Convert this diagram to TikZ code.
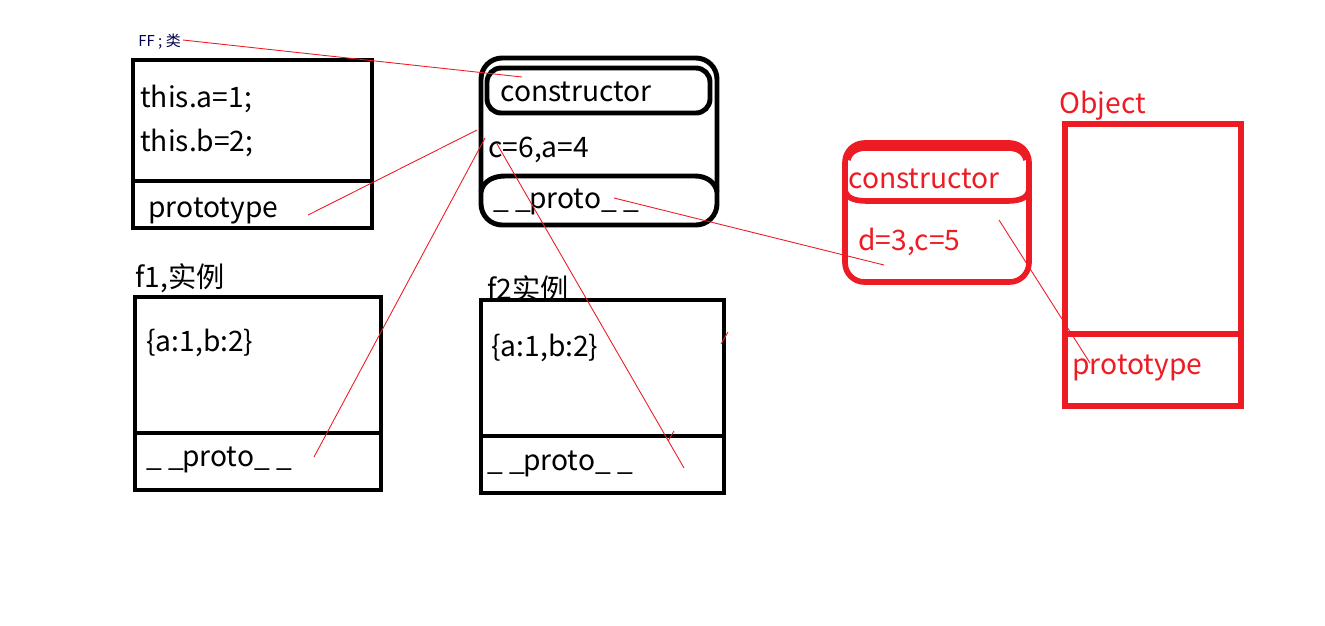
\documentclass[tikz,border=0pt]{standalone}
\usepackage{fontspec}
\setmainfont{Noto Sans CJK SC}
\definecolor{paintred}{RGB}{237,28,36}
\newcommand{\protolabel}{\_\hspace{3.5pt}\_\kern-1pt proto\_\hspace{3.5pt}\_}
\tikzset{
  txt/.style={anchor=west, inner sep=0pt, yshift=-1pt, font=\fontsize{16}{19}\selectfont},
  box/.style={line width=2.8pt},
  redbox/.style={paintred, line width=3.2pt},
  link/.style={paintred, line width=0.5pt}
}
\begin{document}
\begin{tikzpicture}[x=0.5675pt, y=-0.5675pt]
      \useasboundingbox (0,0) rectangle (1325,625);
      % boxes
      \draw[box] (133,60) rectangle (372,228) (133,181) -- (372,181);
      \draw[box, rounded corners=12pt] (481,58) rectangle (717,225);
      \draw[box, rounded corners=8pt] (487,68) rectangle (710,113);
      \draw[box] (481,192) to[out=80,in=180] (505,176) -- (695,176) to[out=0,in=100] (717,192);
      \draw[box] (135,297) rectangle (381,490) (135,433) -- (381,433);
      \draw[box] (481,300) rectangle (724,493) (481,436) -- (724,436);
      \draw[redbox, rounded corners=11pt] (845,143) rectangle (1029,282);
      \draw[redbox] (848,160) to[out=80,in=180] (866,148) -- (1008,148) to[out=0,in=100] (1026,160);
      \draw[redbox] (845,190) to[out=-80,in=180] (870,201) -- (1005,201) to[out=0,in=-100] (1029,190);
      \draw[redbox] (1065,124) rectangle (1241,406) (1065,334) -- (1241,334);
      % texts
      \draw
        (138,40) node[txt, font=\fontsize{8.5}{10}\selectfont, text=blue!30!black] (ff){FF ; 类}
        (140,97) node[txt] (thisa){this.a=1;}
        (140,141) node[txt] (thisb){this.b=2;}
        (148,209) node[txt] (ffproto){prototype}
        (500,90) node[txt] (ctor){constructor}
        (488,148) node[txt] (ca){c=6,a=4}
        (493,200) node[txt] (ctorproto){\protolabel}
        (135,276) node[txt] (fone){f1,实例}
        (146,341) node[txt] (fonedata){\{a:1,b:2\}}
        (146,458) node[txt] (foneproto){\protolabel}
        (487,287) node[txt] (ftwo){f2实例}
        (491,346) node[txt] (ftwodata){\{a:1,b:2\}}
        (487,462) node[txt] (ftwoproto){\protolabel}
        (848,177) node[txt, text=paintred] (octor){constructor}
        (858,240) node[txt, text=paintred] (dc){d=3,c=5}
        (1059,104) node[txt, text=paintred] (obj){Object}
        (1072,366) node[txt, text=paintred] (objproto){prototype};
      % link ends
      \coordinate (a0) at (183,40);   \coordinate (a1) at (522,77);
      \coordinate (b0) at (308,215);  \coordinate (b1) at (477,130);
      \coordinate (c0) at (314,457);  \coordinate (c1) at (485,138);
      \coordinate (d0) at (497,144);  \coordinate (d1) at (684,468);
      \coordinate (e0) at (614,198);  \coordinate (e1) at (884,265);
      \coordinate (g0) at (999,220);  \coordinate (g1) at (1090,363);
      \coordinate (t0) at (668,441);  \coordinate (t1) at (674,431);
      \coordinate (m0) at (721,344);  \coordinate (m1) at (728,332);
      \begin{scope}[link]
        \draw (a0) to (a1);
        \draw (b0) to (b1);
        \draw (c0) to (c1);
        \draw (d0) to (d1);
        \draw (e0) to (e1);
        \draw (g0) to (g1);
        \draw (t0) to (t1);
        \draw (m0) to (m1);
      \end{scope}
    \end{tikzpicture}
\end{document}
